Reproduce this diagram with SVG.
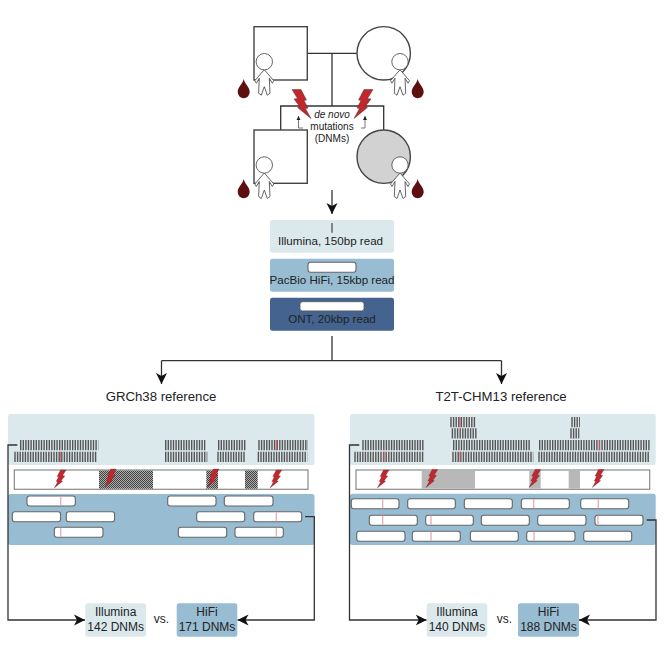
<svg xmlns="http://www.w3.org/2000/svg" width="664" height="664" viewBox="0 0 664 664">
<style>
text{font-family:"Liberation Sans",Arial,sans-serif;fill:#222;text-anchor:middle}
.t10{font-size:10px}.t116{font-size:11.6px}.t12{font-size:12px}.t13{font-size:13.2px}
.ped{fill:#fff;stroke:#444;stroke-width:1.4}
.line{fill:none;stroke:#333;stroke-width:1.3}
.thin{fill:none;stroke:#555;stroke-width:.8}
.light{fill:#dbe9ed}.mid{fill:#98bcd1}.dark{fill:#44648f}
.ticks{stroke:#555;stroke-width:10.2;stroke-dasharray:1.4 1.2;fill:none}
.red{stroke:#e0555f;stroke-width:1;fill:none}
.pale{stroke:#e8a5ac;stroke-width:1.2;fill:none}
.read{fill:#fff;stroke:#666;stroke-width:1.1}
.bar{fill:#fff;stroke:#8a8a8a;stroke-width:1.2}
.gray{fill:#b8b8b8}
.fig{fill:#fff;stroke:#555;stroke-width:.9;stroke-linejoin:round}
.drop{fill:#5c1010}
.bolt{fill:#c1272d;stroke:#3a2020;stroke-width:.4}
</style>
<defs>
<pattern id="hatch" width="2" height="2" patternUnits="userSpaceOnUse"><rect width="2" height="2" fill="#aaa"/><rect width="1" height="1" fill="#444"/><rect x="1" y="1" width="1" height="1" fill="#444"/></pattern>
<marker id="arr" markerUnits="userSpaceOnUse" markerWidth="13" markerHeight="13" refX="11" refY="6.5" orient="auto"><path d="M0,1 L11,6.5 L0,12 L3,6.5Z" fill="#111"/></marker>
<marker id="small" markerUnits="userSpaceOnUse" markerWidth="5" markerHeight="5" refX="4" refY="2.5" orient="auto"><path d="M0,0.5 L4,2.5 L0,4.5Z" fill="#222"/></marker>
<g id="child"><path class="fig" d="M0,8 L-9.5,19 L-8,21.5 L-5,16.5 L-5.7,31.5 L-3,33.5 L0,25 L3,33.5 L5.7,31.5 L5,16.5 L8,21.5 L9.5,19Z"/><circle class="fig" r="8.2"/></g>
<path id="bl" class="drop" d="M0,0 C1,5 6,8 6,13 A6,6.2 0 0 1 -6,13 C-6,8 -1,5 0,0Z"/>
<path id="bolt" class="bolt" d="M10,-29 L19,-29 L13.5,-20 L17,-19.5 L11,-11.5 L13.5,-11 L0,0 L5.5,-10 L3,-10.5 L7,-18 L4.5,-18.5 Z"/>
</defs>

<g id="connectors">
<path class="line" d="M307,53.3H357M332,53.3V106M280.7,130V106H383.7V130"/>
<path class="thin" marker-end="url(#small)" d="M303,128H298.5V116"/>
<path class="thin" marker-end="url(#small)" d="M361,128H365V116"/>
<path class="line" marker-end="url(#arr)" d="M332,190V214"/>
<path class="line" d="M332,336V360.7M501.5,360.7H161.5"/>
<path class="line" marker-end="url(#arr)" d="M161.5,360.7V384"/>
<path class="line" marker-end="url(#arr)" d="M501.5,360.7V384"/>
</g>

<g id="father"><rect class="ped" x="254" y="26.7" width="53.3" height="53.3"/><use href="#child" x="264.3" y="61.7"/><use href="#bl" x="243.7" y="79"/></g>
<g id="mother"><circle class="ped" cx="383.7" cy="53.3" r="26.7"/><use href="#child" x="400" y="61.7"/><use href="#bl" x="417.7" y="79"/></g>
<g id="son"><rect class="ped" x="254" y="130" width="53.3" height="53.3"/><use href="#child" x="264.3" y="165"/><use href="#bl" x="243.7" y="179"/></g>
<g id="daughter"><circle class="ped" style="fill:#d2d2d2" cx="383.7" cy="156.7" r="26.7"/><use href="#child" x="400" y="165"/><use href="#bl" x="417.7" y="179"/></g>

<g id="dnm-label">
<use href="#bolt" transform="translate(311,118.5) scale(-1,1)"/>
<use href="#bolt" transform="translate(354,118.5)"/>
<text class="t10" x="332" y="118" font-style="italic">de novo</text>
<text class="t10" x="332" y="129.5">mutations</text>
<text class="t10" x="332" y="142">(DNMs)</text>
</g>

<g id="illumina-read"><rect class="light" x="270" y="220" width="124" height="32.7" rx="2.5"/><path d="M332,223V232.7" stroke="#444" stroke-width="1.2"/><text class="t116" x="330.5" y="245">Illumina, 150bp read</text></g>
<g id="hifi-read"><rect class="mid" x="270" y="258.7" width="124" height="33" rx="2.5"/><rect class="read" x="308" y="262.3" width="48" height="10" rx="2.5"/><text class="t116" x="332" y="284">PacBio HiFi, 15kbp read</text></g>
<g id="ont-read"><rect class="dark" x="270" y="297.7" width="124" height="33" rx="2.5"/><rect x="300" y="301.7" width="64" height="9.2" rx="2.5" fill="#fff" stroke="#555" stroke-width=".8"/><text class="t116" x="332" y="322.7">ONT, 20kbp read</text></g>

<g id="grch38">
<text class="t13" x="161" y="401">GRCh38 reference</text>
<rect class="light" x="8" y="414" width="306.5" height="51" rx="2.5"/>
<path class="ticks" d="M20,445.2H98.3M165,445.2H205.3M218,445.2H246M258.3,445.2H308M14.3,456.9H97.3M165,456.9H207.3M217.3,456.9H245.7M257.7,456.9H307.3"/>
<path class="red" d="M60.7,451.7V462M276.3,440V450.3"/>
<rect class="bar" x="14.3" y="470" width="293.7" height="19.3"/>
<path fill="url(#hatch)" d="M99,470.6h54v18.2h-54zM206.3,470.6h11.7v18.2h-11.7zM245,470.6h12.7v18.2h-12.7z"/>
<use href="#bolt" transform="translate(54.3,488) scale(.62)"/>
<use href="#bolt" transform="translate(104.5,487) scale(.62)"/>
<use href="#bolt" transform="translate(207.3,487) scale(.62)"/>
<use href="#bolt" transform="translate(270,488) scale(.62)"/>
<rect class="mid" x="8" y="494" width="306.5" height="51" rx="2.5"/>
<g id="grch38-hifi">
<rect class="read" x="27" y="496" width="48.3" height="10" rx="2.5"/>
<rect class="read" x="12.3" y="511.7" width="48.3" height="10" rx="2.5"/>
<rect class="read" x="66.3" y="511.7" width="48.3" height="10" rx="2.5"/>
<rect class="read" x="54.3" y="527.3" width="48.7" height="10" rx="2.5"/>
<rect class="read" x="167.7" y="496" width="48.3" height="10" rx="2.5"/>
<rect class="read" x="224.3" y="496" width="48.7" height="10" rx="2.5"/>
<rect class="read" x="196.7" y="511.7" width="48" height="10" rx="2.5"/>
<rect class="read" x="253.7" y="511.7" width="48" height="10" rx="2.5"/>
<rect class="read" x="178.3" y="527.3" width="48.4" height="10" rx="2.5"/>
<rect class="read" x="235" y="527.3" width="48.3" height="10" rx="2.5"/>
<path class="pale" d="M60.7,496.5V505.5M60.7,527.8V536.8M276.3,512.2V521.2M276.3,527.8V536.8"/>
</g>
</g>

<g id="t2t">
<text class="t13" x="501" y="401">T2T-CHM13 reference</text>
<rect class="light" x="350" y="414" width="305.7" height="51" rx="2.5"/>
<path class="ticks" d="M362.3,445.2H424M453,445.2H531M539,445.2H650M354.3,456.9H423.3M452.3,456.9H533.3M538.3,456.9H649.3M451.7,433.3H477M450.3,422.2H475.3M570.3,433.3H579.3M571.3,422.2H580"/>
<path class="red" d="M384,451.7V462M460,451.7V462M460,417V427.3M599.3,440V450.3"/>
<rect class="bar" x="356" y="470" width="293.7" height="19.3"/>
<path class="gray" d="M421.7,470.6H475V488.8H421.7ZM529.3,470.6H540.7V488.8H529.3ZM568.7,470.6H580V488.8H568.7Z"/>
<use href="#bolt" transform="translate(377.3,488) scale(.62)"/>
<use href="#bolt" transform="translate(426,487.5) scale(.62)"/>
<use href="#bolt" transform="translate(529,487.5) scale(.62)"/>
<use href="#bolt" transform="translate(592.3,487.5) scale(.62)"/>
<rect class="mid" x="350" y="493.7" width="305.7" height="51.3" rx="2.5"/>
<g id="t2t-hifi">
<rect class="read" x="351.3" y="498.7" width="47.7" height="10" rx="2.5"/>
<rect class="read" x="407.7" y="498.7" width="47.6" height="10" rx="2.5"/>
<rect class="read" x="464.3" y="498.7" width="48" height="10" rx="2.5"/>
<rect class="read" x="521.3" y="498.7" width="48" height="10" rx="2.5"/>
<rect class="read" x="580.7" y="498.7" width="48" height="10" rx="2.5"/>
<rect class="read" x="369.3" y="515.3" width="48" height="10" rx="2.5"/>
<rect class="read" x="425.7" y="515.3" width="47.6" height="10" rx="2.5"/>
<rect class="read" x="481.3" y="515.3" width="48" height="10" rx="2.5"/>
<rect class="read" x="537.7" y="515.3" width="48.3" height="10" rx="2.5"/>
<rect class="read" x="595" y="515.3" width="48" height="10" rx="2.5"/>
<rect class="read" x="356.7" y="531.3" width="48.3" height="10" rx="2.5"/>
<rect class="read" x="412.3" y="531.3" width="48" height="10" rx="2.5"/>
<rect class="read" x="470.3" y="531.3" width="48" height="10" rx="2.5"/>
<rect class="read" x="526.7" y="531.3" width="48.3" height="10" rx="2.5"/>
<rect class="read" x="583.7" y="531.3" width="48" height="10" rx="2.5"/>
<path class="pale" d="M382.7,499.2V508.2M533.7,499.2V508.2M598.3,499.2V508.2M382.7,515.8V524.8M431,515.8V524.8M598,515.8V524.8M431,531.8V540.8M534,531.8V540.8"/>
</g>
</g>

<g id="result-connectors">
<path class="line" marker-end="url(#arr)" d="M17.3,445H8V620H85"/>
<path class="line" marker-end="url(#arr)" d="M305,516.7H314.3V620H237.5"/>
<path class="line" marker-end="url(#arr)" d="M359.3,445H349.5V620H426.7"/>
<path class="line" marker-end="url(#arr)" d="M646.7,520H656V620H579"/>
</g>

<g id="grch38-illumina"><rect class="light" x="85.3" y="603.3" width="60.7" height="33.4" rx="2.5"/><text class="t12" x="115.7" y="616">Illumina</text><text class="t12" x="115.7" y="630.7">142 DNMs</text></g>
<text class="t12" x="161.3" y="623">vs.</text>
<g id="grch38-hifi-count"><rect class="mid" x="176.7" y="603.3" width="60.6" height="33.4" rx="2.5"/><text class="t12" x="207" y="616">HiFi</text><text class="t12" x="207" y="630.7">171 DNMs</text></g>
<g id="t2t-illumina"><rect class="light" x="426.7" y="603.3" width="60.6" height="33.4" rx="2.5"/><text class="t12" x="457" y="616">Illumina</text><text class="t12" x="457" y="630.7">140 DNMs</text></g>
<text class="t12" x="504.3" y="623">vs.</text>
<g id="t2t-hifi-count"><rect class="mid" x="518" y="603.3" width="61" height="33.4" rx="2.5"/><text class="t12" x="548.5" y="616">HiFi</text><text class="t12" x="548.5" y="630.7">188 DNMs</text></g>
</svg>
